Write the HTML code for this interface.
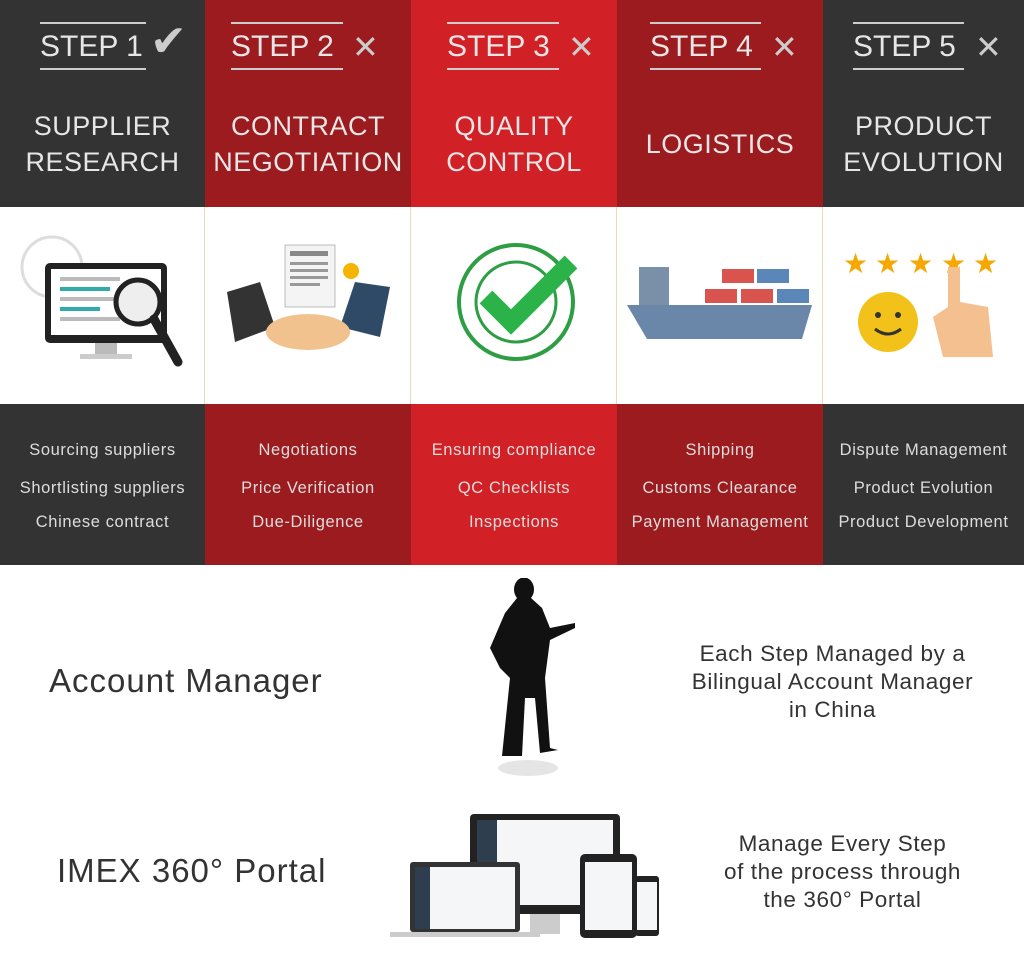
<!DOCTYPE html>
<html><head><meta charset="utf-8"><style>
*{margin:0;padding:0;box-sizing:border-box}
body{width:1024px;height:956px;background:#fff;font-family:"Liberation Sans",sans-serif;position:relative;overflow:hidden}
.col{position:absolute;top:0;height:565px}
.hd{position:absolute;top:0;left:0;right:0;height:207px}
.ic{position:absolute;top:207px;left:0;right:0;height:197px;background:#fff;border-right:1px solid #e8d9b8}
.bt{position:absolute;top:404px;left:0;right:0;height:161px}
.step{position:absolute;top:22px;left:40px;width:106px;border-top:2px solid #ccc;border-bottom:2px solid #ccc;height:48px;color:#e6e6e6;font-size:30px;line-height:46px;white-space:nowrap}
.mk{position:absolute;top:28px;color:#ccc;font-size:32px}
.tt{position:absolute;top:108px;left:0;right:0;text-align:center;color:#e6e6e6;font-size:27px;line-height:36px;letter-spacing:.5px}
.li{position:absolute;left:0;right:0;text-align:center;color:#ddd;font-size:16.5px;letter-spacing:.6px}
.dk{background:#333}.dr{background:#9b1b1f}.rd{background:#d12127}
</style></head><body>
<div class="col" style="left:0;width:205px">
 <div class="hd dk"><div class="step">STEP 1</div><div class="mk" style="left:150px;top:16px;font-size:44px">✔</div><div class="tt">SUPPLIER<br>RESEARCH</div></div>
 <div class="ic"><svg width="205" height="197">
  <circle cx="52" cy="60" r="30" fill="none" stroke="#ddd" stroke-width="3"/>
  <rect x="45" y="56" width="122" height="80" rx="5" fill="#222"/><rect x="51" y="62" width="110" height="66" fill="#fff"/>
  <rect x="60" y="70" width="60" height="4" fill="#bbb"/><rect x="60" y="80" width="50" height="4" fill="#3aa"/><rect x="60" y="90" width="70" height="4" fill="#bbb"/><rect x="60" y="100" width="40" height="4" fill="#3aa"/><rect x="60" y="110" width="60" height="4" fill="#bbb"/>
  <rect x="95" y="136" width="22" height="12" fill="#bbb"/><rect x="80" y="147" width="52" height="5" fill="#ccc"/>
  <circle cx="138" cy="95" r="22" fill="#eee" stroke="#222" stroke-width="5"/><line x1="154" y1="112" x2="178" y2="155" stroke="#222" stroke-width="9" stroke-linecap="round"/>
 </svg></div>
 <div class="bt dk"><div class="li" style="top:37px">Sourcing suppliers</div><div class="li" style="top:75px">Shortlisting suppliers</div><div class="li" style="top:109px">Chinese contract</div></div>
</div>
<div class="col" style="left:205px;width:206px">
 <div class="hd dr"><div class="step" style="left:26px;width:112px">STEP 2</div><div class="mk" style="left:147px">✕</div><div class="tt">CONTRACT<br>NEGOTIATION</div></div>
 <div class="ic"><svg width="206" height="197">
  <rect x="80" y="38" width="50" height="62" fill="#f4f4f4" stroke="#bbb"/><rect x="85" y="44" width="38" height="5" fill="#888"/>
  <g fill="#999"><rect x="85" y="55" width="38" height="3"/><rect x="85" y="62" width="38" height="3"/><rect x="85" y="69" width="38" height="3"/><rect x="85" y="76" width="30" height="3"/></g>
  <circle cx="146" cy="64" r="8" fill="#f5b400"/>
  <polygon points="22,85 55,75 70,120 30,135" fill="#333"/><polygon points="185,80 150,75 135,120 175,130" fill="#2f4a66"/>
  <ellipse cx="103" cy="125" rx="42" ry="18" fill="#f2c28e"/>
 </svg></div>
 <div class="bt dr"><div class="li" style="top:37px">Negotiations</div><div class="li" style="top:75px">Price Verification</div><div class="li" style="top:109px">Due-Diligence</div></div>
</div>
<div class="col" style="left:411px;width:206px">
 <div class="hd rd"><div class="step" style="left:36px;width:112px">STEP 3</div><div class="mk" style="left:157px">✕</div><div class="tt">QUALITY<br>CONTROL</div></div>
 <div class="ic"><svg width="206" height="197">
  <circle cx="105" cy="95" r="57" fill="#fff" stroke="#2e9e44" stroke-width="4"/><circle cx="105" cy="95" r="40" fill="none" stroke="#2e9e44" stroke-width="3"/>
  <polyline points="75,90 100,115 160,55" fill="none" stroke="#2bb34a" stroke-width="18"/>
 </svg></div>
 <div class="bt rd"><div class="li" style="top:37px">Ensuring compliance</div><div class="li" style="top:75px">QC Checklists</div><div class="li" style="top:109px">Inspections</div></div>
</div>
<div class="col" style="left:617px;width:206px">
 <div class="hd dr"><div class="step" style="left:33px;width:111px">STEP 4</div><div class="mk" style="left:154px">✕</div><div class="tt" style="top:126px">LOGISTICS</div></div>
 <div class="ic"><svg width="206" height="197">
  <g fill="#d9534f"><rect x="105" y="62" width="32" height="14"/><rect x="88" y="82" width="32" height="14"/><rect x="124" y="82" width="32" height="14"/></g>
  <g fill="#5b86b8"><rect x="140" y="62" width="32" height="14"/><rect x="160" y="82" width="32" height="14"/></g>
  <rect x="22" y="60" width="30" height="40" fill="#7a8fa8"/>
  <polygon points="10,98 195,98 185,132 30,132" fill="#6a86a8"/>
 </svg></div>
 <div class="bt dr"><div class="li" style="top:37px">Shipping</div><div class="li" style="top:75px">Customs Clearance</div><div class="li" style="top:109px">Payment Management</div></div>
</div>
<div class="col" style="left:823px;width:201px">
 <div class="hd dk"><div class="step" style="left:30px;width:111px">STEP 5</div><div class="mk" style="left:152px">✕</div><div class="tt">PRODUCT<br>EVOLUTION</div></div>
 <div class="ic" style="border:none"><svg width="201" height="197">
  <g fill="#f6a700" font-size="28"><text x="20" y="66">★</text><text x="52" y="66">★</text><text x="85" y="66">★</text><text x="118" y="66">★</text><text x="150" y="66">★</text></g>
  <circle cx="65" cy="115" r="30" fill="#f2c21b"/><circle cx="55" cy="108" r="3" fill="#333"/><circle cx="75" cy="108" r="3" fill="#333"/><path d="M52 122 Q65 132 78 122" stroke="#333" stroke-width="3" fill="none"/>
  <path d="M125 60 L137 60 L137 95 L165 100 L170 150 L120 150 L110 110 L125 100 Z" fill="#f4c08f"/>
 </svg></div>
 <div class="bt dk"><div class="li" style="top:37px">Dispute Management</div><div class="li" style="top:75px">Product Evolution</div><div class="li" style="top:109px">Product Development</div></div>
</div>
<div style="position:absolute;left:49px;top:662px;font-size:33px;color:#333;letter-spacing:1px">Account Manager</div>
<svg style="position:absolute;left:480px;top:578px" width="100" height="200"><path d="M37 20 a10 12 0 1 1 14 0 L62 30 L70 50 L95 45 L95 50 L70 62 L65 100 L70 170 L78 172 L60 175 L55 120 L45 120 L42 178 L22 178 L30 100 L20 90 L10 70 L25 35 Z" fill="#111"/><ellipse cx="48" cy="190" rx="30" ry="8" fill="#e5e5e5"/></svg>
<div style="position:absolute;left:670px;top:640px;width:325px;text-align:center;font-size:22.5px;line-height:28px;color:#333;letter-spacing:.6px">Each Step Managed by a<br>Bilingual Account Manager<br>in China</div>
<div style="position:absolute;left:57px;top:852px;font-size:33px;color:#333;letter-spacing:1px">IMEX 360° Portal</div>
<svg style="position:absolute;left:385px;top:810px" width="280" height="130">
 <rect x="85" y="4" width="150" height="100" rx="4" fill="#222"/><rect x="92" y="10" width="136" height="85" fill="#f4f6f8"/><rect x="92" y="10" width="20" height="85" fill="#2f3e4e"/>
 <rect x="145" y="104" width="30" height="20" fill="#ccc"/>
 <rect x="25" y="52" width="110" height="70" rx="3" fill="#333"/><rect x="30" y="57" width="100" height="62" fill="#f4f6f8"/><rect x="30" y="57" width="15" height="62" fill="#2f3e4e"/><rect x="5" y="122" width="150" height="5" fill="#ccc"/>
 <rect x="195" y="44" width="57" height="84" rx="5" fill="#222"/><rect x="200" y="52" width="47" height="68" fill="#f4f6f8"/>
 <rect x="250" y="66" width="24" height="60" rx="3" fill="#222"/><rect x="252" y="72" width="20" height="48" fill="#f4f6f8"/>
</svg>
<div style="position:absolute;left:680px;top:830px;width:325px;text-align:center;font-size:22.5px;line-height:28px;color:#333;letter-spacing:.6px">Manage Every Step<br>of the process through<br>the 360° Portal</div>
</body></html>
